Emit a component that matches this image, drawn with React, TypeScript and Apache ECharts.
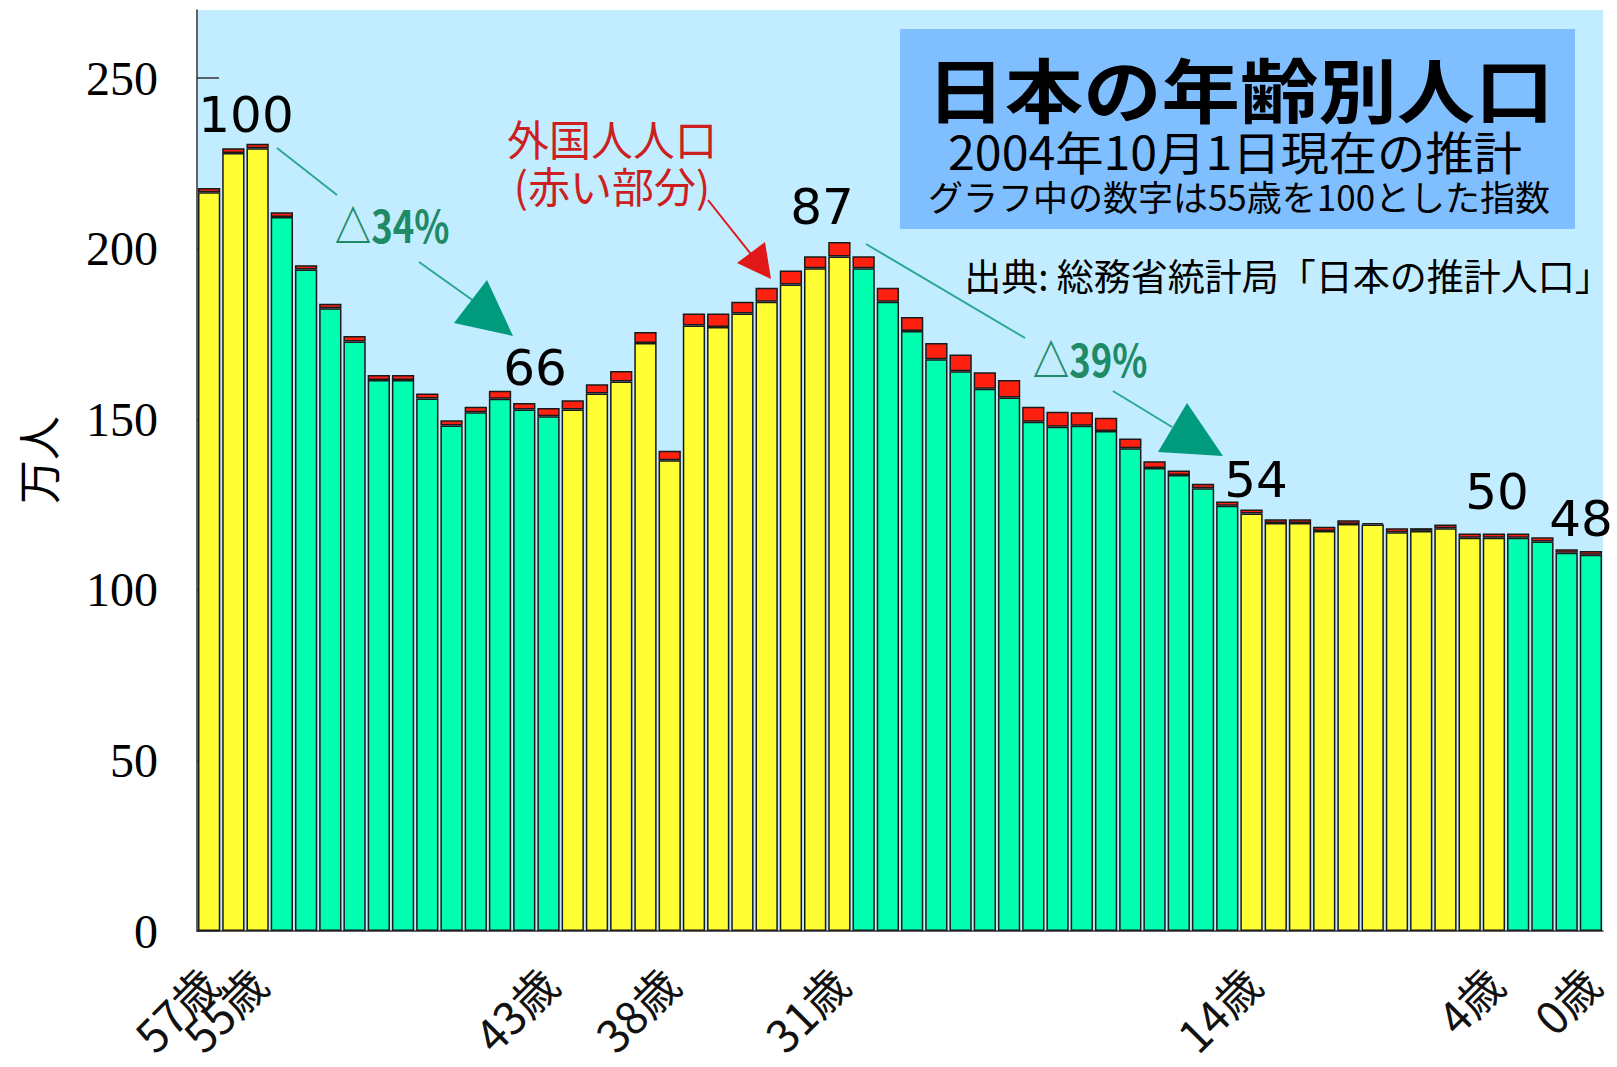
import React, { useEffect, useRef } from "react";
import * as echarts from "echarts";

// ages from 57 down to 0
const ages: number[] = [
  57, 56, 55, 54, 53, 52, 51, 50, 49, 48, 47, 46, 45, 44, 43, 42, 41, 40, 39, 38,
  37, 36, 35, 34, 33, 32, 31, 30, 29, 28, 27, 26, 25, 24, 23, 22, 21, 20, 19, 18,
  17, 16, 15, 14, 13, 12, 11, 10, 9, 8, 7, 6, 5, 4, 3, 2, 1, 0,
];
const categories: string[] = ages.map((a) => `${a}歳`);

// Japanese population (万人)
const japanese: number[] = [
  216.6, 228.1, 229.5, 209.3, 193.9, 182.6, 172.8, 161.5, 161.5, 156.1,
  148.2, 152.1, 156.0, 152.9, 150.9, 152.9, 157.6, 161.1, 172.4, 138.0,
  177.5, 177.1, 181.0, 184.5, 189.5, 194.3, 197.7, 194.3, 184.5, 175.9,
  167.6, 164.1, 159.0, 156.4, 149.3, 147.8, 148.1, 146.6, 141.5, 135.7,
  133.7, 129.8, 124.7, 122.4, 119.6, 119.6, 117.3, 119.3, 119.2, 116.9,
  117.3, 118.1, 115.3, 115.3, 115.3, 114.2, 110.9, 110.3,
];

// Foreign population (万人), red part
const foreign: number[] = [
  1.2, 1.4, 1.3, 1.4, 1.3, 1.3, 1.6, 1.5, 1.5, 1.5,
  1.5, 1.6, 2.4, 1.9, 2.4, 2.7, 2.7, 3.1, 3.2, 2.8,
  3.5, 3.9, 3.5, 4.1, 4.1, 3.5, 4.3, 3.5, 4.1, 4.1,
  4.8, 4.9, 4.8, 5.1, 4.4, 4.4, 4.0, 3.9, 2.9, 2.0,
  1.3, 1.3, 1.2, 1.2, 1.1, 1.1, 1.2, 1.1, 0.4, 1.2,
  0.8, 1.1, 1.2, 1.2, 1.2, 1.2, 1.0, 1.1,
];

// age ranges drawn in yellow (others green)
const yellowRanges: [number, number][] = [
  [57, 55],
  [42, 31],
  [14, 4],
];
// labelled ages: two sets so that the overlapping 57/55 labels both show
const labeledAgesMain: number[] = [57, 43, 38, 31, 14, 4, 0];
const labeledAgesExtra: number[] = [55];
const yTicks: number[] = [0, 50, 100, 150, 200, 250];

const YELLOW = "#FFFF33";
const GREEN = "#00FFB0";
const RED = "#FF2010";

const isYellow = (age: number) =>
  yellowRanges.some(([hi, lo]) => age <= hi && age >= lo);

const txt = (
  text: string,
  x: number,
  y: number,
  fontSize: number,
  opts: any = {}
) => ({
  type: "text",
  x,
  y,
  scaleX: opts.scaleX ?? 1,
  rotation: opts.rotation ?? 0,
  z: 100,
  style: {
    text,
    fontSize,
    lineHeight: opts.lineHeight,
    fontFamily: opts.family ?? "'Noto Sans CJK JP', sans-serif",
    fontWeight: opts.weight ?? "normal",
    fill: opts.fill ?? "#000",
    align: "center",
    verticalAlign: "middle",
  },
});

const line = (x1: number, y1: number, x2: number, y2: number, color: string) => ({
  type: "line",
  z: 100,
  shape: { x1, y1, x2, y2 },
  style: { stroke: color, lineWidth: 2 },
});

const tri = (pts: number[][], color: string) => ({
  type: "polygon",
  z: 100,
  shape: { points: pts },
  style: { fill: color },
});

export default function App() {
  const ref = useRef<HTMLDivElement>(null);

  useEffect(() => {
    if (!ref.current) return;
    const chart = echarts.init(ref.current, undefined, { renderer: "svg" });
    const teal = "#009B7D";
    const tealLine = "#2AA890";
    const pctColor = "#1F8A66";
    const redLine = "#E01818";
    const numFont = "'DejaVu Sans', sans-serif";
    const cjk = "'Noto Sans CJK JP', sans-serif";

    const xLabelStyle = {
      rotate: 45,
      margin: 44,
      fontSize: 45,
      showMinLabel: true,
      showMaxLabel: true,
      hideOverlap: false,
      fontFamily: cjk,
      color: "#111",
    };

    const option: any = {
      animation: false,
      backgroundColor: "#ffffff",
      grid: {
        left: 197,
        right: 14,
        top: 10,
        bottom: 136,
        show: true,
        backgroundColor: "#C2ECFF",
        borderWidth: 0,
      },
      xAxis: [
        {
          type: "category",
          data: categories,
          position: "bottom",
          axisTick: { show: false },
          axisLine: { lineStyle: { color: "#333", width: 1.5 } },
          axisLabel: {
            ...xLabelStyle,
            interval: (i: number) => labeledAgesMain.includes(ages[i]),
          },
        },
        {
          type: "category",
          data: categories,
          position: "bottom",
          offset: 0,
          axisTick: { show: false },
          axisLine: { show: false },
          axisLabel: {
            ...xLabelStyle,
            interval: (i: number) => labeledAgesExtra.includes(ages[i]),
          },
        },
      ],
      yAxis: {
        type: "value",
        min: 0,
        max: 270,
        interval: 50,
        splitLine: { show: false },
        axisLine: { show: true, lineStyle: { color: "#333", width: 1.5 } },
        axisTick: {
          show: true,
          inside: true,
          length: 22,
          customValues: yTicks,
          lineStyle: { color: "#333", width: 1.5 },
        },
        axisLabel: {
          customValues: yTicks,
          fontSize: 48,
          fontFamily: "'Liberation Serif', 'Times New Roman', serif",
          color: "#000",
          margin: 39,
        },
      },
      series: [
        {
          name: "日本人",
          type: "bar",
          stack: "pop",
          barCategoryGap: "8%",
          data: japanese.map((v, i) => ({
            value: v,
            itemStyle: { color: isYellow(ages[i]) ? YELLOW : GREEN },
          })),
          itemStyle: { borderColor: "#1a1a1a", borderWidth: 1.5 },
        },
        {
          name: "外国人",
          type: "bar",
          stack: "pop",
          data: foreign,
          itemStyle: { color: RED, borderColor: "#1a1a1a", borderWidth: 1.5 },
        },
      ],
      graphic: [
        // y axis name
        txt("万人", 37, 460, 44, { rotation: Math.PI / 2 }),
        // title box
        {
          type: "rect",
          z: 90,
          shape: { x: 900, y: 29, width: 675, height: 200 },
          style: { fill: "#80BFFF" },
        },
        txt("日本の年齢別人口", 1240, 87, 70, { weight: "bold", scaleX: 1.12 }),
        txt("2004年10月1日現在の推計", 1235, 150, 46, { scaleX: 1.05 }),
        txt("グラフ中の数字は55歳を100とした指数", 1239, 195, 35),
        txt("出典: 総務省統計局「日本の推計人口」", 1288, 275, 37),
        // red annotation (two lines in one text)
        txt("外国人人口\n(赤い部分)", 612, 161, 42, { fill: "#CC1F1F", lineHeight: 47 }),
        line(708, 200, 754, 258, redLine),
        tri([[765, 242], [737, 263], [771, 279]], redLine),
        // index labels
        txt("100", 246, 115, 50, { family: numFont }),
        txt("66", 535, 368, 50, { family: numFont }),
        txt("87", 822, 207, 50, { family: numFont }),
        txt("54", 1256, 480, 50, { family: numFont }),
        txt("50", 1497, 492, 50, { family: numFont }),
        txt("48", 1581, 519, 50, { family: numFont }),
        // decline arrows
        line(277, 148, 337, 195, tealLine),
        line(419, 262, 478, 304, tealLine),
        tri([[487, 280], [454, 323], [513, 336]], teal),
        txt("△34%", 392, 224, 44, { family: cjk, weight: "bold", fill: pctColor, scaleX: 0.83 }),
        line(866, 244, 1025, 338, tealLine),
        line(1113, 391, 1172, 427, tealLine),
        tri([[1187, 403], [1158, 452], [1223, 456]], teal),
        txt("△39%", 1090, 358, 44, { family: cjk, weight: "bold", fill: pctColor, scaleX: 0.83 }),
      ],
    };

    chart.setOption(option);
    return () => chart.dispose();
  }, []);

  return (
    <div
      ref={ref}
      style={{ position: "absolute", left: 0, top: 0, width: 1617, height: 1067 }}
    />
  );
}
